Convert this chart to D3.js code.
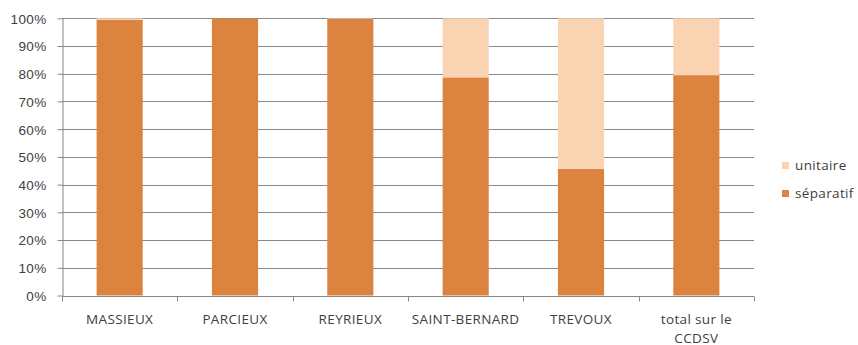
<!DOCTYPE html>
<html>
<head>
<meta charset="utf-8">
<script src="https://cdn.jsdelivr.net/npm/d3@7"></script>
<style>
  html, body { margin: 0; padding: 0; background: #fff; }
  svg { display: block; font-family: "Open Sans", "Liberation Sans", sans-serif; }
</style>
</head>
<body>
<svg id="chart" width="858" height="345"></svg>
<script>
// Communes and share of each network type (percent)
const communes = ["MASSIEUX", "PARCIEUX", "REYRIEUX", "SAINT-BERNARD", "TREVOUX", "total sur le CCDSV"];
const separatif = [99.4, 100, 99.8, 78.7, 45.7, 79.5];
const unitaire  = [0.6, 0, 0.2, 21.3, 54.3, 20.5];
const yTicks = [0, 10, 20, 30, 40, 50, 60, 70, 80, 90, 100];
const seriesNames = ["séparatif", "unitaire"];
const seriesColors = ["#db833f", "#fad3b3"];

const svg = d3.select("#chart");
const margin = { left: 62, right: 104, top: 18.3, bottom: 49.5 };
const W = 858, H = 345;
const fontSize = 13.5, spacing = 0.35;

const x = d3.scaleBand().domain(communes).range([margin.left, W - margin.right]).paddingInner(0.6).paddingOuter(0.3);
const y = d3.scaleLinear().domain([0, 100]).range([H - margin.bottom, margin.top]);

// Horizontal gridlines
svg.append("g")
  .selectAll("line")
  .data(yTicks.filter(d => d > 0))
  .join("line")
  .attr("x1", margin.left).attr("x2", W - margin.right)
  .attr("y1", d => Math.round(y(d)) + 0.5).attr("y2", d => Math.round(y(d)) + 0.5)
  .attr("stroke", "#8a8a8a").attr("stroke-width", 1);

// Stacked bars
const rows = communes.map((c, i) => ({ commune: c, "séparatif": separatif[i], "unitaire": unitaire[i] }));
const stacked = d3.stack().keys(seriesNames)(rows);
const color = d3.scaleOrdinal().domain(seriesNames).range(seriesColors);

svg.append("g")
  .selectAll("g")
  .data(stacked)
  .join("g")
  .attr("fill", d => color(d.key))
  .selectAll("rect")
  .data(d => d)
  .join("rect")
  .attr("x", d => x(d.data.commune))
  .attr("width", x.bandwidth())
  .attr("y", d => y(d[1]))
  .attr("height", d => Math.max(0, y(d[0]) - y(d[1])));

// Y axis
const yAxis = svg.append("g")
  .attr("transform", `translate(${margin.left + 0.5},0)`)
  .call(d3.axisLeft(y).tickValues(yTicks).tickFormat(d => d + "%").tickSize(5).tickSizeOuter(0));
yAxis.select(".domain").attr("stroke", "#868686");
yAxis.selectAll(".tick line").attr("stroke", "#868686");
yAxis.selectAll(".tick text")
  .attr("fill", "#404040")
  .attr("font-size", fontSize)
  .attr("letter-spacing", spacing)
  .attr("x", -16)
  .attr("dy", "0.36em");

// X axis with category separators
const xAxis = svg.append("g")
  .attr("transform", `translate(0,${Math.round(y(0)) + 0.5})`);
xAxis.append("line")
  .attr("x1", margin.left).attr("x2", W - margin.right)
  .attr("stroke", "#868686");
const bounds = communes.map(c => x(c) - x.step() * x.paddingInner() / 2).concat([W - margin.right]);
bounds[0] = margin.left;
xAxis.selectAll("line.sep")
  .data(bounds)
  .join("line")
  .attr("class", "sep")
  .attr("x1", d => Math.round(d) + 0.5).attr("x2", d => Math.round(d) + 0.5)
  .attr("y1", 0).attr("y2", 5)
  .attr("stroke", "#868686");

// Category labels (wrapped)
const labelLines = { "total sur le CCDSV": ["total sur le", "CCDSV"] };
xAxis.selectAll("text.cat")
  .data(communes)
  .join("text")
  .attr("class", "cat")
  .attr("text-anchor", "middle")
  .attr("fill", "#404040")
  .attr("font-size", fontSize)
  .attr("letter-spacing", spacing)
  .each(function (d) {
    const lines = labelLines[d] || [d];
    d3.select(this).selectAll("tspan")
      .data(lines)
      .join("tspan")
      .attr("x", x(d) + x.bandwidth() / 2)
      .attr("y", (l, i) => 27.5 + i * 18.5)
      .text(l => l);
  });

// Legend
const legend = svg.append("g").attr("transform", "translate(782,162)");
const legendItems = ["unitaire", "séparatif"];
legend.selectAll("g")
  .data(legendItems)
  .join("g")
  .attr("transform", (d, i) => `translate(0,${i * 28})`)
  .each(function (d) {
    const g = d3.select(this);
    g.append("rect").attr("width", 7).attr("height", 7).attr("fill", color(d));
    g.append("text").attr("x", 13).attr("y", 8)
      .attr("fill", "#404040").attr("font-size", fontSize)
      .attr("letter-spacing", spacing).text(d);
  });
</script>
</body>
</html>
